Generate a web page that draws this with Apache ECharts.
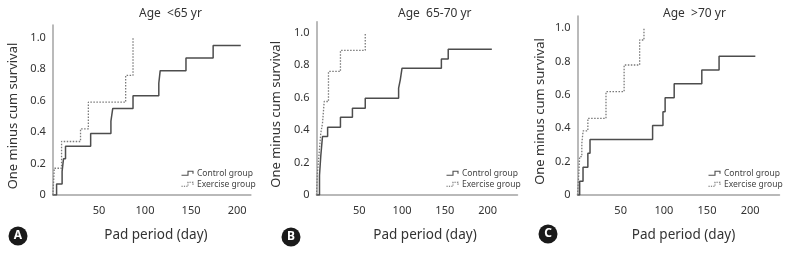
<!DOCTYPE html>
<html>
<head>
<meta charset="utf-8">
<script src="https://cdn.jsdelivr.net/npm/echarts@6/dist/echarts.min.js"></script>
<style>
  html, body { margin: 0; padding: 0; background: #fff; }
  #chart { width: 788px; height: 253px; }
</style>
</head>
<body>
<div id="chart"></div>
<script>
// [day, one minus cum survival]
const ctrlA = [[0, 0], [4, 0.07], [10, 0.15], [11.5, 0.23], [13.7, 0.31], [41, 0.39], [63, 0.47], [65, 0.55], [87, 0.63], [115, 0.71], [116.5, 0.79], [144.5, 0.87], [174, 0.95], [204, 0.95]];
const exerA = [[0, 0], [1.5, 0.17], [9.4, 0.34], [30, 0.42], [38.5, 0.59], [79, 0.76], [87, 1.0]];
const ctrlB = [[0, 0], [3.5, 0.12], [5, 0.24], [6, 0.30], [7, 0.36], [13, 0.417], [28, 0.478], [42, 0.534], [57, 0.595], [96, 0.657], [98, 0.71], [100, 0.78], [146, 0.836], [154, 0.897], [205, 0.897]];
const exerB = [[0, 0], [1, 0.13], [3, 0.25], [5, 0.38], [7, 0.44], [9, 0.575], [14, 0.76], [28, 0.89], [57, 1.0]];
const ctrlC = [[0, 0], [2.5, 0.083], [6.4, 0.167], [12, 0.25], [14.5, 0.333], [87, 0.417], [99, 0.5], [101.5, 0.583], [112, 0.667], [144, 0.75], [164, 0.833], [206, 0.833]];
const exerC = [[0, 0], [1, 0.08], [2.5, 0.23], [5, 0.31], [6.5, 0.385], [12, 0.46], [33, 0.62], [54, 0.78], [72, 0.93], [77, 1.0]];

const panelTitles = ["Age  <65 yr", "Age  65-70 yr", "Age  >70 yr"];
const panelLetters = ["A", "B", "C"];
const seriesNames = ["Control group", "Exercise group"];

const chart = echarts.init(document.getElementById("chart"));

const font = "Noto Sans";
const textColor = "#333";
const axisColor = "#a3a3a3";
const ctrlColor = "#4d4d4d";
const exerColor = "#7a7a7a";
const exerDash = [1.5, 1.5];

// panel layout (px)
const panels = [
  { left: 52.9, width: 198, top: 25, height: 170, xMax: 215, yMax: 1.08, nameGap: 33.5, xShift: 4, title: [139, 8], legend: [181.5, 173.3], letter: [18, 236] },
  { left: 316.5, width: 201, top: 21.7, height: 173.3, xMax: 235, yMax: 1.066, nameGap: 34, xShift: 8, title: [398, 8], legend: [446.5, 173.3], letter: [291, 237] },
  { left: 577.5, width: 202, top: 16, height: 179, xMax: 234, yMax: 1.074, nameGap: 31, xShift: 5, title: [663, 8], legend: [708.5, 173.3], letter: [548, 234] }
];
const data = [[ctrlA, exerA], [ctrlB, exerB], [ctrlC, exerC]];

const grid = [], xAxis = [], yAxis = [], series = [], title = [], graphic = [];

// little step-shaped key, like the one in the original figure
function legendKey(x, y, name, color, dash) {
  return {
    type: "group", x: x, y: y, silent: true,
    children: [
      { type: "polyline", shape: { points: [[0, 2], [6.5, 2], [6.5, -2], [11.5, -2], [11.5, 0.5]] },
        style: { stroke: color, lineWidth: 1.1, fill: null, lineDash: dash } },
      { type: "text", x: 15.5, y: 0,
        style: { text: name, fill: "#444", font: "8.5px " + font, verticalAlign: "middle" } }
    ]
  };
}

panels.forEach((p, i) => {
  grid.push({ left: p.left, top: p.top, width: p.width, height: p.height });

  xAxis.push({
    type: "value", gridIndex: i, min: 0, max: p.xMax, interval: 50,
    name: "Pad period (day)", nameLocation: "middle", nameGap: 33,
    nameTextStyle: { fontFamily: font, fontSize: 13.5, color: textColor, padding: [0, 0, 0, p.xShift * 2] },
    axisLine: { lineStyle: { color: axisColor, width: 1.5 } },
    axisTick: { show: false },
    splitLine: { show: false },
    axisLabel: { showMinLabel: false, showMaxLabel: false, margin: 10, fontFamily: font, fontSize: 11, color: textColor }
  });

  yAxis.push({
    type: "value", gridIndex: i, min: 0, max: p.yMax, interval: 0.2,
    name: "One minus cum survival", nameLocation: "middle", nameRotate: 90, nameGap: p.nameGap,
    nameTextStyle: { fontFamily: font, fontSize: 13, color: textColor, padding: [0, 12, 0, 0] },
    axisLine: { show: true, lineStyle: { color: axisColor, width: 1.5 } },
    axisTick: { show: false },
    splitLine: { show: false },
    axisLabel: {
      showMaxLabel: false, margin: 7, fontFamily: font, fontSize: 11, color: textColor,
      formatter: (v) => (v === 0 ? "0" : v.toFixed(1))
    }
  });

  series.push({
    name: seriesNames[0], type: "line", step: "end", xAxisIndex: i, yAxisIndex: i,
    data: data[i][0], symbol: "none", silent: true,
    lineStyle: { color: ctrlColor, width: 1.5 }, itemStyle: { color: ctrlColor }
  });
  series.push({
    name: seriesNames[1], type: "line", step: "end", xAxisIndex: i, yAxisIndex: i,
    data: data[i][1], symbol: "none", silent: true,
    lineStyle: { color: exerColor, width: 1.3, type: exerDash }, itemStyle: { color: exerColor }
  });

  title.push({
    text: panelTitles[i], left: p.title[0], top: p.title[1], padding: 0,
    textStyle: { fontFamily: font, fontSize: 12, fontWeight: "normal", color: textColor }
  });

  graphic.push(legendKey(p.legend[0], p.legend[1], seriesNames[0], ctrlColor, null));
  graphic.push(legendKey(p.legend[0], p.legend[1] + 11, seriesNames[1], "#666", [1.2, 1.2]));

  graphic.push({
    type: "group", left: p.letter[0] - 9.5, top: p.letter[1] - 9.5,
    children: [
      { type: "circle", shape: { cx: 9.5, cy: 9.5, r: 9.5 }, style: { fill: "#1a1a1a" } },
      { type: "text", x: 9.5, y: 9.5, style: { text: panelLetters[i], fill: "#fff", font: "bold 12px " + font, align: "center", verticalAlign: "middle" } }
    ]
  });
});

chart.setOption({
  animation: false,
  backgroundColor: "#fff",
  title, grid, xAxis, yAxis, series, graphic
});
</script>
</body>
</html>
